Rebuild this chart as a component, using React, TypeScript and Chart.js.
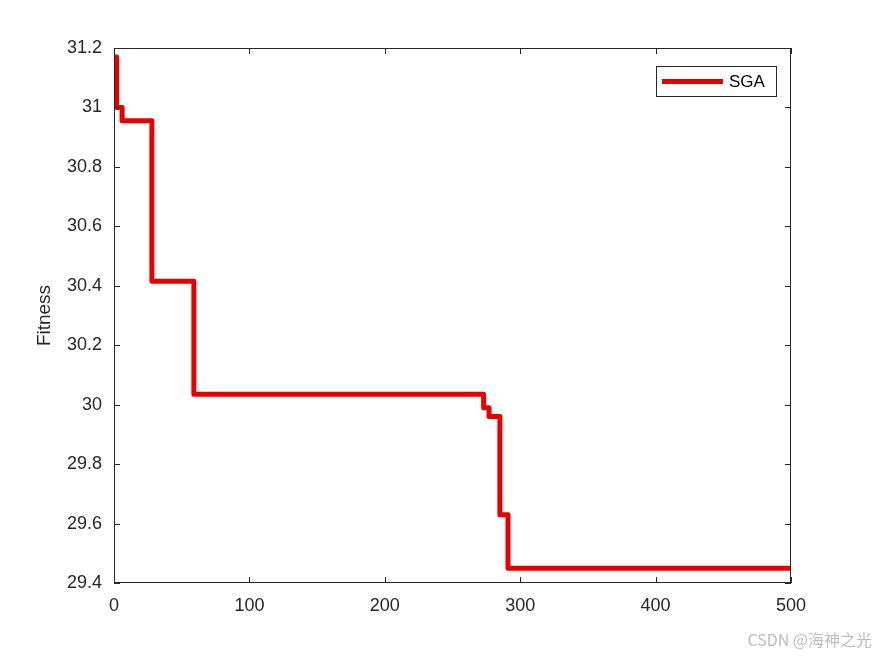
import React, { useEffect, useRef } from "react";
import { Chart, registerables } from "chart.js";

Chart.register(...registerables);

const generations = [1, 2, 6, 28, 59, 273, 277, 285, 291, 500];
const fitness = [31.17, 31.0, 30.955, 30.415, 30.035, 29.99, 29.96, 29.63, 29.45, 29.45];
const seriesName = "SGA";
const yTitle = "Fitness";
const watermark = "CSDN @海神之光";

const FONT = "'Liberation Sans', Arial, Helvetica, sans-serif";
const RED = "rgb(232,0,0)";

const frameAndTicks = {
  id: "frameAndTicks",
  afterDatasetsDraw(chart: any) {
    const { ctx, chartArea: a, scales } = chart;
    ctx.save();
    ctx.strokeStyle = "#262626";
    ctx.lineWidth = 1;
    ctx.strokeRect(a.left + 0.5, a.top + 0.5, a.right - a.left - 1, a.bottom - a.top - 1);
    const L = 6;
    ctx.beginPath();
    scales.x.ticks.forEach((t: any) => {
      const x = Math.round(scales.x.getPixelForValue(t.value)) + 0.5;
      ctx.moveTo(x, a.bottom);
      ctx.lineTo(x, a.bottom - L);
      ctx.moveTo(x, a.top);
      ctx.lineTo(x, a.top + L);
    });
    scales.y.ticks.forEach((t: any) => {
      const y = Math.round(scales.y.getPixelForValue(t.value)) + 0.5;
      ctx.moveTo(a.left, y);
      ctx.lineTo(a.left + L, y);
      ctx.moveTo(a.right, y);
      ctx.lineTo(a.right - L, y);
    });
    ctx.stroke();

    // y-axis title
    ctx.fillStyle = "#262626";
    ctx.font = `19px ${FONT}`;
    ctx.textAlign = "center";
    ctx.textBaseline = "middle";
    ctx.translate(45, (a.top + a.bottom) / 2);
    ctx.rotate(-Math.PI / 2);
    ctx.fillText(yTitle, 0, 0);
    ctx.setTransform(1, 0, 0, 1, 0, 0);

    // legend
    const bx = 656.5, by = 66.5, bw = 120, bh = 30;
    ctx.fillStyle = "#fff";
    ctx.fillRect(bx, by, bw, bh);
    ctx.strokeStyle = "#262626";
    ctx.lineWidth = 1;
    ctx.strokeRect(bx, by, bw, bh);
    ctx.strokeStyle = RED;
    ctx.lineWidth = 5;
    ctx.beginPath();
    ctx.moveTo(662, by + bh / 2);
    ctx.lineTo(723, by + bh / 2);
    ctx.stroke();
    ctx.fillStyle = "#000";
    ctx.font = `17px ${FONT}`;
    ctx.textBaseline = "middle";
    ctx.textAlign = "left";
    ctx.fillText(seriesName, 729, by + bh / 2 + 1);
    ctx.restore();
  },
};

export default function App() {
  const ref = useRef<HTMLCanvasElement>(null);
  useEffect(() => {
    const chart = new Chart(ref.current!, {
      type: "line",
      data: {
        datasets: [
          {
            label: seriesName,
            data: generations.map((g, i) => ({ x: g, y: fitness[i] })),
            borderColor: RED,
            borderWidth: 5,
            borderJoinStyle: "round",
            borderCapStyle: "round",
            pointRadius: 0,
            stepped: "before",
            fill: false,
          },
        ],
      },
      options: {
        animation: false,
        responsive: false,
        layout: { padding: { left: 0, right: 84, top: 48, bottom: 0 } },
        plugins: { legend: { display: false }, tooltip: { enabled: false } },
        scales: {
          x: {
            type: "linear",
            min: 0,
            max: 500,
            ticks: { stepSize: 100, color: "#262626", font: { family: FONT, size: 18 }, padding: 12, maxRotation: 0 },
            grid: { display: false, drawTicks: false },
            border: { display: false },
            afterFit: (s: any) => { s.height = 73; },
          },
          y: {
            min: 29.4,
            max: 31.2,
            ticks: {
              stepSize: 0.2,
              color: "#262626",
              font: { family: FONT, size: 18 },
              padding: 12,
              callback: (v: any) => String(Math.round(Number(v) * 10) / 10),
            },
            grid: { display: false, drawTicks: false },
            border: { display: false },
            afterFit: (s: any) => { s.width = 114; },
          },
        },
      },
      plugins: [frameAndTicks],
    });
    return () => chart.destroy();
  }, []);
  return (
    <div style={{ position: "absolute", left: 0, top: 0, width: 875, height: 656, background: "#fff" }}>
      <canvas ref={ref} width={875} height={656} style={{ display: "block" }} />
      <div
        style={{
          position: "absolute",
          right: 3,
          top: 627,
          fontFamily: "'Noto Sans CJK SC', sans-serif",
          fontSize: 16,
          color: "#bdbdbd",
          whiteSpace: "nowrap",
        }}
      >
        {watermark}
      </div>
    </div>
  );
}
